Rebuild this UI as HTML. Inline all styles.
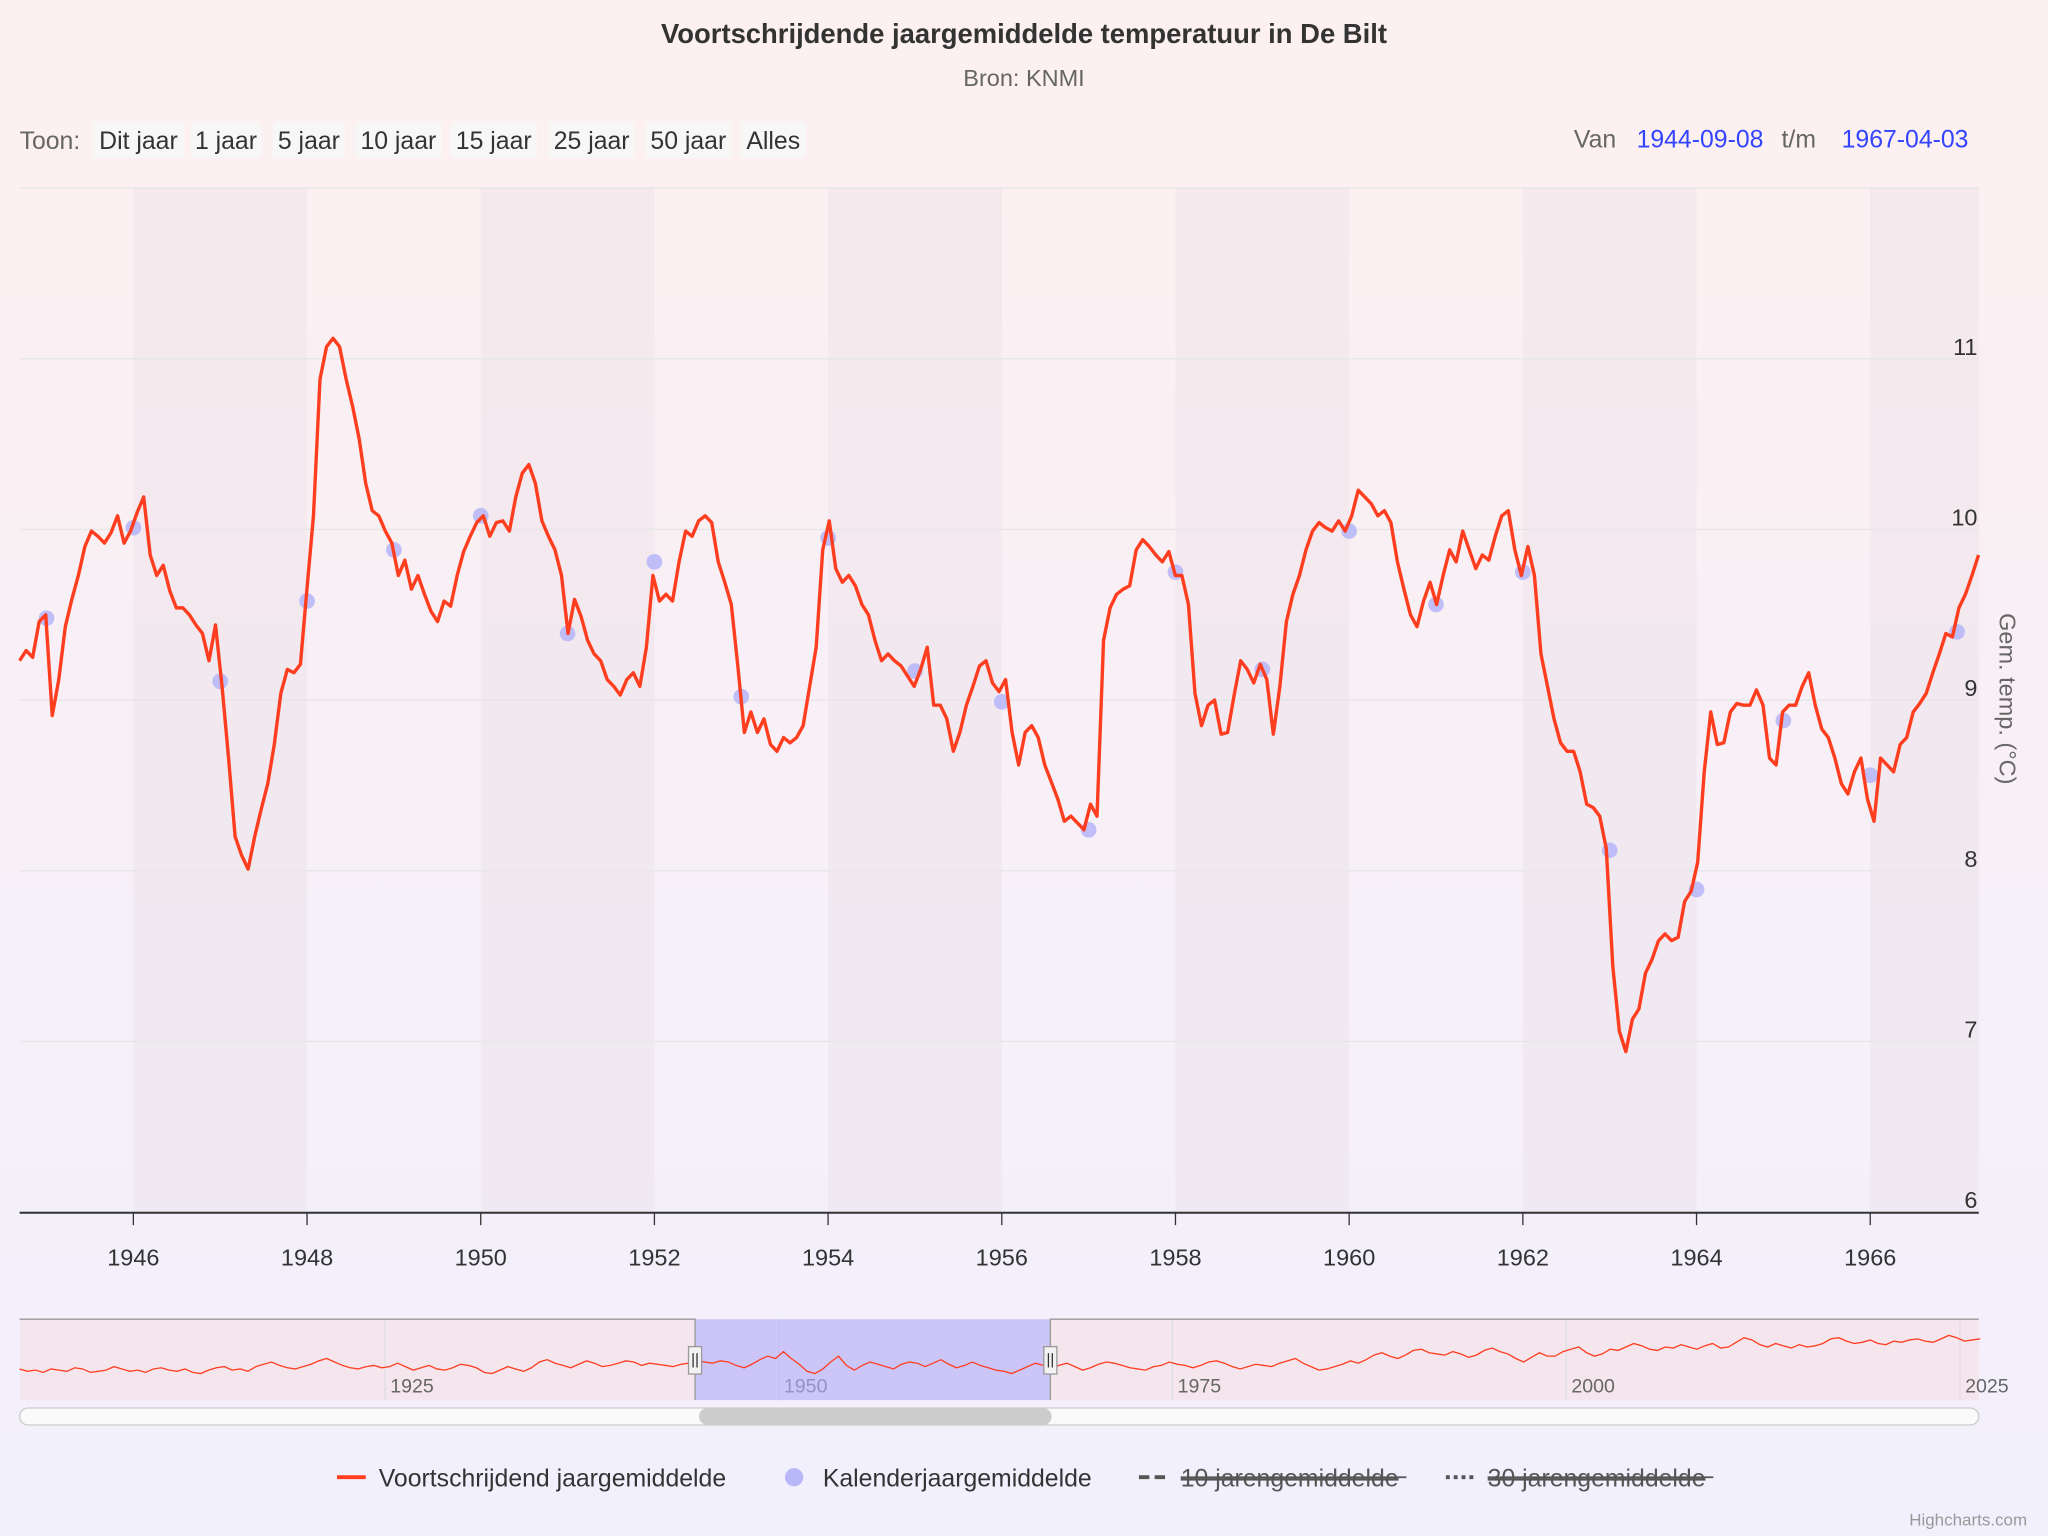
<!DOCTYPE html>
<html><head><meta charset="utf-8">
<style>
html,body{margin:0;padding:0;width:2048px;height:1536px;overflow:hidden;font-family:"Liberation Sans",sans-serif;}
svg{display:block}
</style></head>
<body>
<svg id="chart" width="2048" height="1536" viewBox="0 0 1568 1176" xmlns="http://www.w3.org/2000/svg" font-family="Liberation Sans, sans-serif">
<defs>
<linearGradient id="bg" x1="0" y1="0" x2="0" y2="1">
<stop offset="0" stop-color="#fdf0f0"/><stop offset="1" stop-color="#f2f0fd"/>
</linearGradient>
</defs>
<rect width="1568" height="1176" fill="url(#bg)"/>
<text x="784" y="33" text-anchor="middle" font-size="21" font-weight="bold" fill="#333">Voortschrijdende jaargemiddelde temperatuur in De Bilt</text>
<text x="784" y="66" text-anchor="middle" font-size="18" fill="#666">Bron: KNMI</text>
<g id="rangeSel" font-size="19" fill="#333"></g>
<g id="bands"></g>
<g id="grid"></g>
<g id="plot"></g>
<g id="nav"></g>
<g id="legend" font-size="19"></g>
<text x="1552" y="1168" text-anchor="end" font-size="13" fill="#999">Highcharts.com</text>
</svg>
<script>
const startYear = 1944.69;
const stepYears = 0.07519;
const rollingValues = [9.23,9.29,9.25,9.46,9.50,8.91,9.12,9.43,9.59,9.73,9.90,9.99,9.96,9.92,9.98,10.08,9.92,9.99,10.10,10.19,9.85,9.73,9.79,9.64,9.54,9.54,9.50,9.44,9.39,9.23,9.44,9.08,8.66,8.20,8.09,8.01,8.20,8.36,8.51,8.74,9.04,9.18,9.16,9.21,9.65,10.08,10.88,11.07,11.12,11.07,10.88,10.72,10.53,10.27,10.11,10.08,9.99,9.92,9.73,9.82,9.65,9.73,9.62,9.52,9.46,9.58,9.55,9.73,9.87,9.96,10.04,10.08,9.96,10.04,10.05,9.99,10.19,10.33,10.38,10.27,10.05,9.96,9.88,9.73,9.39,9.59,9.49,9.35,9.27,9.23,9.12,9.08,9.03,9.12,9.16,9.08,9.31,9.73,9.58,9.62,9.58,9.81,9.99,9.96,10.05,10.08,10.04,9.81,9.69,9.56,9.20,8.81,8.93,8.81,8.89,8.74,8.70,8.78,8.75,8.78,8.85,9.08,9.31,9.88,10.05,9.77,9.69,9.73,9.67,9.56,9.50,9.35,9.23,9.27,9.23,9.20,9.14,9.08,9.18,9.31,8.97,8.97,8.89,8.70,8.81,8.97,9.08,9.20,9.23,9.10,9.05,9.12,8.81,8.62,8.81,8.85,8.78,8.62,8.52,8.42,8.29,8.32,8.28,8.24,8.39,8.32,9.35,9.54,9.62,9.65,9.67,9.88,9.94,9.90,9.85,9.81,9.87,9.73,9.73,9.56,9.04,8.85,8.97,9.00,8.80,8.81,9.03,9.23,9.18,9.10,9.21,9.12,8.80,9.08,9.46,9.62,9.73,9.88,9.99,10.04,10.01,9.99,10.05,9.99,10.08,10.23,10.19,10.15,10.08,10.11,10.04,9.81,9.65,9.50,9.43,9.58,9.69,9.56,9.73,9.88,9.81,9.99,9.88,9.77,9.85,9.82,9.96,10.08,10.11,9.88,9.73,9.90,9.73,9.27,9.08,8.89,8.75,8.70,8.70,8.58,8.39,8.37,8.32,8.13,7.44,7.06,6.94,7.13,7.19,7.40,7.48,7.59,7.63,7.59,7.61,7.82,7.88,8.05,8.58,8.93,8.74,8.75,8.93,8.98,8.97,8.97,9.06,8.97,8.66,8.62,8.93,8.97,8.97,9.08,9.16,8.97,8.83,8.78,8.66,8.51,8.45,8.58,8.66,8.42,8.29,8.66,8.62,8.58,8.74,8.78,8.93,8.98,9.04,9.16,9.27,9.39,9.37,9.54,9.62,9.73,9.85];
const calendarYears = [1945,1946,1947,1948,1949,1950,1951,1952,1953,1954,1955,1956,1957,1958,1959,1960,1961,1962,1963,1964,1965,1966,1967];
const calendarValues = [9.48,10.01,9.11,9.58,9.88,10.08,9.39,9.81,9.02,9.95,9.17,8.99,8.24,9.75,9.18,9.99,9.56,9.75,8.12,7.89,8.88,8.56,9.40];
const xTickLabels = [1946,1948,1950,1952,1954,1956,1958,1960,1962,1964,1966];
const yTickLabels = [6,7,8,9,10,11];
const navStartYear = 1901.8;
const navStep = 0.5;
const navValues = [8.7,8.5,8.6,8.4,8.7,8.6,8.5,8.8,8.7,8.4,8.5,8.6,8.9,8.7,8.5,8.6,8.4,8.7,8.8,8.6,8.5,8.7,8.4,8.3,8.6,8.8,8.9,8.6,8.7,8.5,8.9,9.1,9.3,9.0,8.8,8.7,8.9,9.1,9.4,9.6,9.3,9.0,8.8,8.7,8.9,9.0,8.8,8.9,9.2,8.9,8.6,8.8,9.0,8.7,8.6,8.8,9.1,9.0,8.8,8.4,8.3,8.6,8.9,8.7,8.5,8.8,9.3,9.5,9.2,9.0,8.8,9.1,9.4,9.2,8.9,9.0,9.2,9.4,9.3,9.0,9.2,9.1,9.0,8.9,9.1,9.2,9.4,9.3,9.2,9.4,9.3,9.0,8.8,9.1,9.5,9.8,9.6,10.2,9.6,9.1,8.5,8.3,8.7,9.3,9.8,9.0,8.6,9.0,9.3,9.1,8.9,8.7,9.1,9.3,9.2,8.9,9.2,9.5,9.1,8.8,9.0,9.3,9.0,8.8,8.6,8.5,8.3,8.6,8.9,9.2,9.0,8.7,9.0,9.2,8.9,8.6,8.8,9.1,9.3,9.2,9.0,8.8,8.7,8.6,8.9,9.0,9.3,9.1,9.0,8.8,9.0,9.3,9.4,9.2,8.9,8.7,8.9,9.1,9.0,8.9,9.2,9.4,9.6,9.2,8.9,8.6,8.7,8.9,9.1,9.4,9.2,9.5,9.9,10.1,9.8,9.6,9.9,10.3,10.4,10.1,10.0,9.9,10.2,10.0,9.7,9.9,10.3,10.5,10.2,10.0,9.6,9.3,9.7,10.1,9.8,9.8,10.2,10.4,10.6,10.1,9.8,10.0,10.4,10.3,10.6,10.9,10.7,10.4,10.3,10.6,10.5,10.8,10.6,10.4,10.7,10.9,10.5,10.6,11.0,11.4,11.2,10.8,10.6,10.9,10.7,10.5,10.8,10.6,10.7,10.9,11.3,11.4,11.1,10.9,11.0,11.2,10.9,10.8,11.1,11.0,11.2,11.3,11.1,11.0,11.3,11.6,11.4,11.1,11.2,11.3];
const navTickLabels = [1925,1950,1975,2000,2025];
const rangeButtons = ["Dit jaar","1 jaar","5 jaar","10 jaar","15 jaar","25 jaar","50 jaar","Alles"];

const NS="http://www.w3.org/2000/svg";
function mk(tag,attrs,parent,text){const e=document.createElementNS(NS,tag);for(const k in attrs)e.setAttribute(k,attrs[k]);if(text!==undefined)e.textContent=text;parent.appendChild(e);return e;}
const X0=15,X1=1515,Y0=144,Y1=928;
const xMin=1944.69,xMax=1967.25,yMin=6,yMax=12;
const xs=v=>X0+(v-xMin)/(xMax-xMin)*(X1-X0);
const ys=v=>Y1-(v-yMin)/(yMax-yMin)*(Y1-Y0);

const rs=document.getElementById('rangeSel');
let t=mk('text',{x:15,y:114,fill:'#666'},rs,'Toon:');


const bx=[71,146,209,272,345,420,494,567];
const bw=[70,54,55,66,66,66,66,50];
rangeButtons.forEach((b,i)=>{
  const g=mk('g',{},rs);
  
  
  mk('rect',{x:bx[i],y:93,width:bw[i],height:28,fill:'#f7f7f7',rx:2},g);
  mk('text',{x:bx[i]+bw[i]/2,y:114,'text-anchor':'middle'},g,b);
});
t=mk('text',{x:1205,y:113,fill:'#666'},rs,'Van');

t=mk('text',{x:1253,y:113,fill:'#3344ff'},rs,'1944-09-08');

t=mk('text',{x:1364,y:113,fill:'#666'},rs,'t/m');

t=mk('text',{x:1410,y:113,fill:'#3344ff'},rs,'1967-04-03');


const bands=document.getElementById('bands');
for(let y=1946;y<1968;y+=4){
  const a=xs(y),b=Math.min(xs(y+2),X1);
  const r=mk('rect',{x:a,y:Y0,width:b-a,height:Y1-Y0,fill:'#e0d0dc',opacity:0.22},bands);
  
  
}
const grid=document.getElementById('grid');
yTickLabels.concat([12]).forEach(v=>{
  const l=mk('line',{x1:X0,x2:X1,y1:ys(v),y2:ys(v),stroke:'#e6e6e6','stroke-width':1},grid);
  
  
});
yTickLabels.forEach(v=>{
  const l=mk('text',{x:1514,y:ys(v)-3,'text-anchor':'end','font-size':18,fill:'#333'},grid,String(v));
  
  
});
t=mk('text',{x:1531,y:535,'text-anchor':'middle','font-size':18,fill:'#666',transform:'rotate(90 1531 535)'},grid,'Gem. temp. (°C)');

t=mk('line',{x1:X0,x2:X1,y1:Y1+0.5,y2:Y1+0.5,stroke:'#333','stroke-width':1.5},grid);

xTickLabels.forEach(v=>{
  const tk=mk('line',{x1:xs(v),x2:xs(v),y1:Y1,y2:Y1+10,stroke:'#333'},grid);
  
  
  const l=mk('text',{x:xs(v),y:969,'text-anchor':'middle','font-size':18,fill:'#333'},grid,String(v));
  
  
});

const plot=document.getElementById('plot');
calendarYears.forEach((yr,i)=>{
  const c=mk('circle',{cx:xs(yr),cy:ys(calendarValues[i]),r:6,fill:'#b8b8f8',opacity:0.9},plot);
  
  
});
let d='';
rollingValues.forEach((v,i)=>{d+=(i?'L':'M')+xs(startYear+i*stepYears).toFixed(1)+','+ys(v).toFixed(1);});
const line=mk('path',{d:d,fill:'none',stroke:'#ff3d1f','stroke-width':2.6,'stroke-linejoin':'round'},plot);



const nav=document.getElementById('nav');
const NX0=15,NX1=1515,NY0=1010,NY1=1072,nMin=1901.8,nMax=2026.2;
const nxs=v=>NX0+(v-nMin)/(nMax-nMin)*(NX1-NX0);
const nys=v=>NY1-(v-6)/(13-6)*(NY1-NY0);
t=mk('rect',{x:NX0,y:NY0,width:NX1-NX0,height:NY1-NY0,fill:'#f5e6ee'},nav);

navTickLabels.forEach(v=>{
  mk('line',{x1:nxs(v),x2:nxs(v),y1:NY0,y2:NY1,stroke:'#e0dde4'},nav);
  const l=mk('text',{x:nxs(v)+4,y:1066,'font-size':15,fill:'#666'},nav,String(v));
  
  
});
const selA=nxs(1944.69),selB=nxs(1967.25);
t=mk('rect',{x:selA,y:NY0,width:selB-selA,height:NY1-NY0,fill:'#b0b0ff',opacity:0.6},nav);

let nd='';
navValues.forEach((v,i)=>{nd+=(i?'L':'M')+nxs(navStartYear+i*navStep).toFixed(1)+','+nys(v).toFixed(1);});
t=mk('path',{d:nd,fill:'none',stroke:'#ff3d1f','stroke-width':1},nav);

t=mk('path',{d:`M${NX0},${NY0}H${selA}V${NY1}M${selB},${NY1}V${NY0}H${NX1}`,fill:'none',stroke:'#999'},nav);

[selA,selB].forEach((hx,i)=>{
  const g=mk('g',{},nav);
  
  
  mk('rect',{x:hx-5,y:1031,width:10,height:21,fill:'#f2f2f2',stroke:'#999'},g);
  mk('line',{x1:hx-1.5,x2:hx-1.5,y1:1036,y2:1047,stroke:'#333'},g);
  mk('line',{x1:hx+1.5,x2:hx+1.5,y1:1036,y2:1047,stroke:'#333'},g);
});
t=mk('rect',{x:15,y:1078,width:1500,height:13,rx:6.5,fill:'#fafafa',stroke:'#ccc'},nav);

t=mk('rect',{x:selA+3,y:1078,width:selB-selA-2,height:13,rx:6.5,fill:'#cccccc'},nav);


const lg=document.getElementById('legend');
function legendItem(name,x,sym,label,strike){
  const g=mk('g',{},lg);
  
  
  if(sym==='line')mk('line',{x1:x,x2:x+22,y1:1131,y2:1131,stroke:'#ff3d1f','stroke-width':3},g);
  if(sym==='dot')mk('circle',{cx:x+10,cy:1131,r:7,fill:'#b8b8f8'},g);
  if(sym==='dash')mk('line',{x1:x,x2:x+22,y1:1131,y2:1131,stroke:'#555','stroke-width':3,'stroke-dasharray':'8,4'},g);
  if(sym==='dot2')mk('line',{x1:x,x2:x+22,y1:1131,y2:1131,stroke:'#555','stroke-width':3,'stroke-dasharray':'3,3'},g);
  mk('text',{x:x+32,y:1138,fill:strike?'#555':'#333','text-decoration':strike?'line-through':'none'},g,label);
  if(strike){const w=label.length*9.6;mk('line',{x1:x+32,x2:x+32+w,y1:1131,y2:1131,stroke:'#555','stroke-width':1.3},g);}
}
legendItem('legend-rolling-average',258,'line','Voortschrijdend jaargemiddelde',false);
legendItem('legend-calendar-average',598,'dot','Kalenderjaargemiddelde',false);
legendItem('legend-10-year-average',872,'dash','10 jarengemiddelde',true);
legendItem('legend-30-year-average',1107,'dot2','30 jarengemiddelde',true);
</script>
</body></html>
